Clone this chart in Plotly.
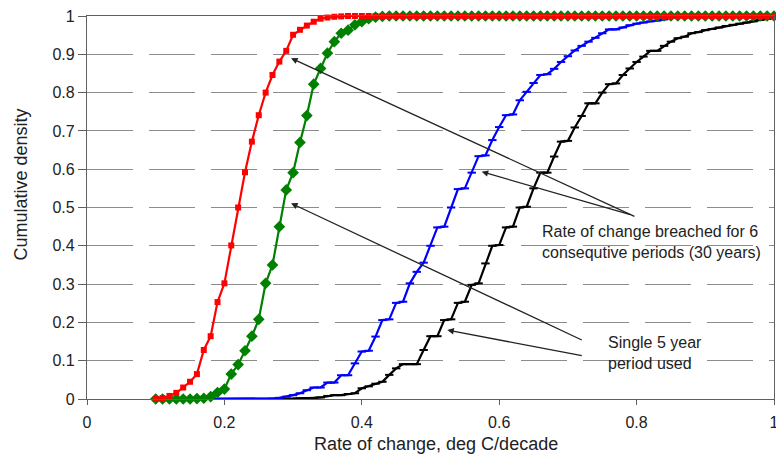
import plotly.graph_objects as go

x_vals = [round(0.10 + 0.01 * i, 2) for i in range(91)]

red_vals = [0, 0.002, 0.008, 0.016, 0.03, 0.045, 0.065, 0.128, 0.164, 0.253,
            0.302, 0.401, 0.50, 0.592, 0.672, 0.741, 0.80, 0.846, 0.881, 0.909,
            0.951, 0.964, 0.975, 0.985, 0.993, 0.996, 0.998, 0.999] + [1] * 63

green_vals = [0, 0, 0, 0, 0, 0, 0.001, 0.002, 0.006, 0.017,
              0.026, 0.065, 0.09, 0.126, 0.164, 0.208, 0.302, 0.35, 0.45, 0.546,
              0.591, 0.670, 0.740, 0.822, 0.863, 0.903, 0.933, 0.955, 0.963, 0.977,
              0.985, 0.993, 0.997, 0.999] + [1] * 57

blue_vals = [0] * 17 + [0.001, 0.003, 0.006,
             0.01, 0.015, 0.023, 0.03, 0.03, 0.043, 0.043, 0.062, 0.062, 0.093,
             0.124, 0.126, 0.163, 0.206, 0.208, 0.251, 0.254, 0.302, 0.332, 0.356,
             0.40, 0.448, 0.45, 0.50, 0.548, 0.55, 0.591, 0.634, 0.636, 0.676,
             0.71, 0.741, 0.743, 0.78, 0.802, 0.825, 0.846, 0.848, 0.862, 0.88,
             0.895, 0.91, 0.922, 0.933, 0.943, 0.955, 0.965, 0.965, 0.97, 0.976,
             0.98, 0.983, 0.986, 0.988, 0.991, 0.996, 0.998, 0.999] + [1] * 13

black_vals = [0] * 20 + [
    0.001, 0.002, 0.002, 0.003, 0.004, 0.008, 0.01, 0.01, 0.013, 0.015,
    0.028, 0.033, 0.04, 0.045, 0.063, 0.08, 0.091, 0.091, 0.091, 0.128,
    0.164, 0.164, 0.206, 0.208, 0.251, 0.254, 0.298, 0.302, 0.354, 0.40,
    0.402, 0.448, 0.45, 0.50, 0.502, 0.55, 0.591, 0.591, 0.633, 0.672,
    0.674, 0.709, 0.739, 0.772, 0.772, 0.80, 0.822, 0.824, 0.846, 0.863,
    0.88, 0.894, 0.909, 0.909, 0.922, 0.933, 0.942, 0.946, 0.955, 0.958,
    0.963, 0.966, 0.97, 0.974, 0.977, 0.98, 0.983, 0.986, 0.99, 0.993, 0.995]

x_ticks = [0, 0.2, 0.4, 0.6, 0.8, 1]
x_tick_text = ["0", "0.2", "0.4", "0.6", "0.8", "1"]
y_ticks = [round(0.1 * i, 1) for i in range(11)]
y_tick_text = ["0", "0.1", "0.2", "0.3", "0.4", "0.5", "0.6", "0.7", "0.8", "0.9", "1"]

FONT = "Liberation Sans, Arial, Helvetica, sans-serif"

fig = go.Figure()
fig.add_trace(go.Scatter(x=x_vals, y=black_vals, mode="lines+markers",
                         line=dict(color="#000000", width=2.2),
                         marker=dict(symbol="line-ew", size=6, line=dict(color="#000000", width=2)),
                         cliponaxis=False, showlegend=False))
fig.add_trace(go.Scatter(x=x_vals, y=blue_vals, mode="lines+markers",
                         line=dict(color="#0000FF", width=2.2),
                         marker=dict(symbol="line-ew", size=6, line=dict(color="#0000FF", width=2)),
                         cliponaxis=False, showlegend=False))
fig.add_trace(go.Scatter(x=x_vals, y=green_vals, mode="lines+markers",
                         line=dict(color="#008000", width=2.2),
                         marker=dict(symbol="diamond", size=9, color="#008000"),
                         cliponaxis=False, showlegend=False))
fig.add_trace(go.Scatter(x=x_vals, y=red_vals, mode="lines+markers",
                         line=dict(color="#FF0000", width=2.2),
                         marker=dict(symbol="square", size=6, color="#FF0000"),
                         cliponaxis=False, showlegend=False))

arrows = [
    dict(x=0.297, y=0.890, ax=0.799, ay=0.475),
    dict(x=0.5745, y=0.5935, ax=0.793, ay=0.480),
    dict(x=0.297, y=0.511, ax=0.7224, ay=0.1522),
    dict(x=0.5245, y=0.180, ax=0.7224, ay=0.1123),
]
for a in arrows:
    fig.add_annotation(x=a["x"], y=a["y"], ax=a["ax"], ay=a["ay"], xref="x", yref="y",
                       axref="x", ayref="y", text="", showarrow=True, arrowhead=2,
                       arrowsize=1, arrowwidth=1.3, arrowcolor="#222222", standoff=0)

fig.add_annotation(x=0.660, y=0.41, xref="x", yref="y", xanchor="left", yanchor="middle",
                   align="left", showarrow=False,
                   text="Rate of change breached for 6<br>consequtive periods (30 years)",
                   font=dict(family=FONT, size=16, color="#222222"))
fig.add_annotation(x=0.755, y=0.120, xref="x", yref="y", xanchor="left", yanchor="middle",
                   align="left", showarrow=False,
                   text="Single 5 year<br>period used",
                   font=dict(family=FONT, size=16, color="#222222"))

# axis titles
fig.add_annotation(x=(21 - 87) / 687, y=0.56, xref="paper", yref="y",
                   xanchor="center", yanchor="middle",
                   textangle=-90, showarrow=False, text="Cumulative density",
                   font=dict(family=FONT, size=18, color="#222222"))
fig.add_annotation(x=(436 - 87) / 687, y=-(444 - 399) / 383, xref="paper", yref="paper",
                   xanchor="center", yanchor="middle", showarrow=False,
                   text="Rate of change, deg C/decade",
                   font=dict(family=FONT, size=18, color="#222222"))

fig.update_xaxes(range=[0, 1], tickvals=x_ticks, ticktext=x_tick_text,
                 showgrid=False, zeroline=False, showline=True, linecolor="#606060", linewidth=1.3,
                 mirror=True, ticks="outside", ticklen=5, tickcolor="#606060",
                 ticklabeloverflow="allow", ticklabelstandoff=4, automargin=False,
                 tickfont=dict(family=FONT, size=16, color="#222222"))
fig.update_yaxes(range=[0, 1], tickvals=y_ticks, ticktext=y_tick_text,
                 showgrid=True, gridcolor="#8c8c8c", gridwidth=1, griddash="46px,16px",
                 zeroline=False, showline=True, linecolor="#606060", linewidth=1.3,
                 mirror=True, ticks="outside", ticklen=8, tickcolor="#606060", automargin=False,
                 tickfont=dict(family=FONT, size=16, color="#222222"))

fig.update_layout(width=776, height=464, margin=dict(l=87, r=2, t=16, b=65),
                  plot_bgcolor="white", paper_bgcolor="white",
                  font=dict(family=FONT, size=16, color="#222222"))

fig.write_html("out.html")
